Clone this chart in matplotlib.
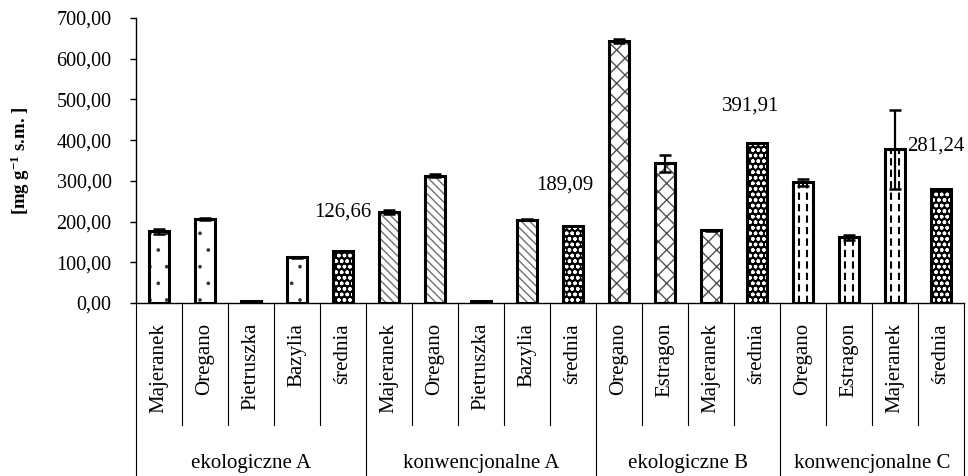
import numpy as np
import matplotlib
matplotlib.use('Agg')
from matplotlib import pyplot as plt
from matplotlib.ticker import FuncFormatter, MultipleLocator

plt.rcParams['font.family'] = ['Liberation Serif', 'DejaVu Serif']
plt.rcParams['mathtext.default'] = 'regular'

# grupy i zioła
groups = ['ekologiczne A', 'konwencjonalne A', 'ekologiczne B', 'konwencjonalne C']
herbs_eko_a = ['Majeranek', 'Oregano', 'Pietruszka', 'Bazylia', 'średnia']
herbs_konw_a = ['Majeranek', 'Oregano', 'Pietruszka', 'Bazylia', 'średnia']
herbs_eko_b = ['Oregano', 'Estragon', 'Majeranek', 'średnia']
herbs_konw_c = ['Oregano', 'Estragon', 'Majeranek', 'średnia']

# wartości [mg g-1 s.m.] i odchylenia
val_eko_a = [176, 206, 4, 112, 126.66]
err_eko_a = [6, 2, 1, 2, 0]
val_konw_a = [224, 313, 4, 205, 189.09]
err_konw_a = [5, 3, 1, 2, 0]
val_eko_b = [643, 343, 179, 391.91]
err_eko_b = [5, 20, 1, 0]
val_konw_c = [296, 161, 378, 281.24]
err_konw_c = [9, 5, 97, 0]

herbs = [herbs_eko_a, herbs_konw_a, herbs_eko_b, herbs_konw_c]
vals = [val_eko_a, val_konw_a, val_eko_b, val_konw_c]
errs = [err_eko_a, err_konw_a, err_eko_b, err_konw_c]

# wypełnienie: (tło, kolor kreskowania, wzór, grubość kreskowania)
styles = [('white', '#303030', '.', 0.2),
          ('white', '#707070', '\\\\\\\\', 1.0),
          ('white', '#505050', 'xx', 1.0),
          ('white', 'black', '', 1.0)]
mean_style = ('black', 'white', 'ooo', 1.0)

fig = plt.figure(figsize=(9.68, 4.76), dpi=100)
ax = fig.add_axes([0.1405, 0.3634, 0.8554, 0.5988])

w = 0.43
pos = 0
bounds = [0]
for g in range(len(groups)):
    for i, name in enumerate(herbs[g]):
        v = vals[g][i]
        e = errs[g][i]
        if name == 'średnia':
            fc, hc, hatch, hlw = mean_style
        else:
            fc, hc, hatch, hlw = styles[g]
        ax.bar(pos, v, w, color=fc, edgecolor=hc, hatch=hatch, linewidth=0,
               hatch_linewidth=hlw, zorder=2)
        if g == 3 and name != 'średnia':
            # przerywane linie pionowe w słupkach konwencjonalne C
            for dx in (-0.085, 0.085):
                ax.plot([pos + dx, pos + dx], [0, v], color='black', lw=1.5,
                        dashes=(3.5, 2), zorder=2.5)
        ax.bar(pos, v, w, fill=False, edgecolor='black', linewidth=2.2, zorder=3)
        if e > 0:
            ax.errorbar(pos, v, yerr=e, fmt='none', ecolor='black', elinewidth=1.6,
                        capsize=4.3, capthick=1.8, zorder=4)
        pos += 1
    bounds.append(pos)

n = pos
ax.set_xlim(-0.5, n - 0.5)
ax.set_ylim(0, 700)
ax.yaxis.set_major_locator(MultipleLocator(100))
ax.yaxis.set_major_formatter(FuncFormatter(lambda y, p: f'{y:.2f}'.replace('.', ',')))
ax.tick_params(axis='y', direction='out', length=4.5, width=1, labelsize=14.5, pad=13)
ax.set_xticks([])
for s in ['top', 'right']:
    ax.spines[s].set_visible(False)
ax.spines['left'].set_linewidth(1)
ax.spines['bottom'].set_linewidth(1)

ax.set_ylabel('[mg g$^{-1}$ s.m. ]', fontsize=13.5, fontweight='bold')
ax.yaxis.set_label_coords(-0.126, 0.5)

# etykiety kategorii pod osią
trans = ax.get_xaxis_transform()
k = 0
for g in range(len(groups)):
    for name in herbs[g]:
        ax.text(k, -0.07, name, rotation=90, ha='center', va='top', fontsize=15,
                transform=trans)
        k += 1
    ax.text((bounds[g] + bounds[g + 1] - 1) / 2, -0.563, groups[g], ha='center',
            va='center', fontsize=15, transform=trans)

for x in range(n + 1):
    xb = x - 0.5
    y_end = -0.607 if x in bounds else -0.428
    ax.plot([xb, xb], [0, y_end], color='black', lw=0.8, transform=trans, clip_on=False)

# wartości średnich
ax.text(4, 224, '126,66', ha='center', va='center', fontsize=15)
ax.text(8.83, 290, '189,09', ha='center', va='center', fontsize=15)
ax.text(12.87, 484, '391,91', ha='center', va='center', fontsize=15)
ax.text(16.26, 386, '281,24', ha='left', va='center', fontsize=15)

fig.savefig('out.png', dpi=100)
